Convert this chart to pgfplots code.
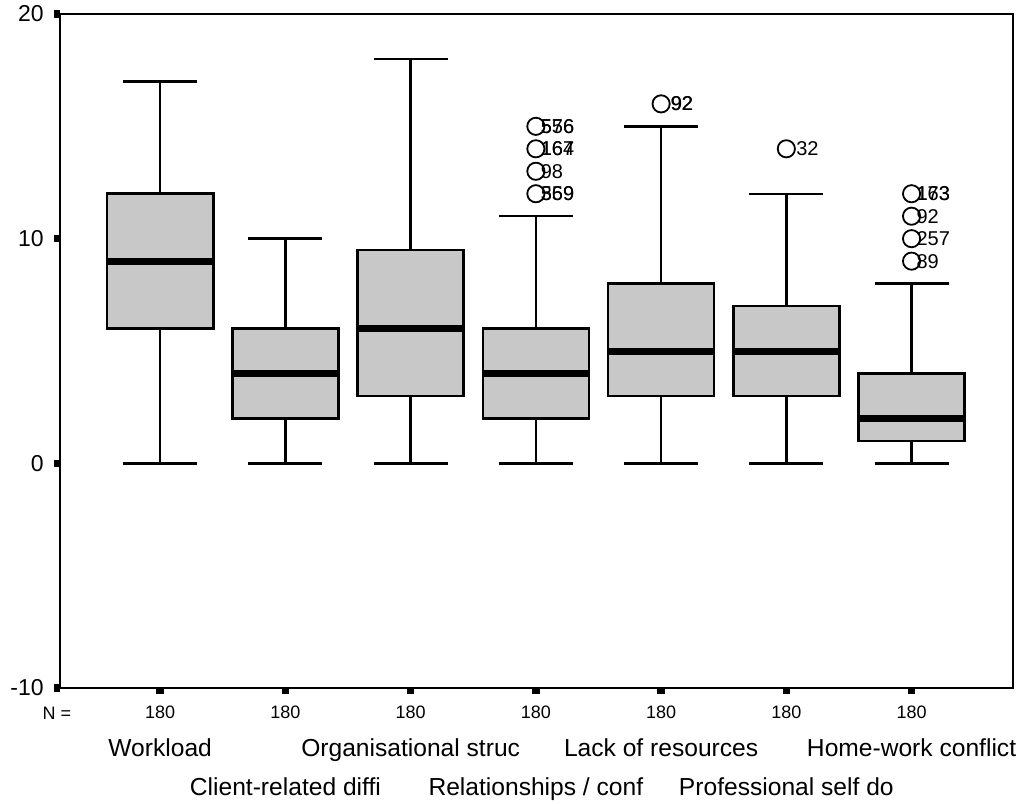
\documentclass[border=0pt]{standalone}
\usepackage{fontspec}
\setmainfont{Liberation Sans}
\usepackage{pgfplots}
\pgfplotsset{compat=1.18}
\usepgfplotslibrary{statistics}
\definecolor{boxgray}{RGB}{200,200,200}
\begin{document}
\begin{tikzpicture}
\useasboundingbox (-30pt,-57.5pt) rectangle (480pt,344pt);
\begin{axis}[
  at={(0,0)}, anchor=south west,
  scale only axis, width=476.5pt, height=337pt,
  xmin=0.2, xmax=7.81, ymin=-10, ymax=20,
  ytick={-10,0,10,20}, xtick={1,...,7},
  tick align=outside, tick pos=left,
  major tick length=3pt,
  tick style={line width=3.8pt, black},
  axis line style={line width=1.2pt},
  clip=false,
  boxplot/draw direction=y,
  /pgf/number format/assume math mode=true,
  yticklabel style={font=\fontsize{11.5}{13}\selectfont, inner sep=0pt, xshift=-5pt},
  xticklabel style={font=\fontsize{12.3}{19}\selectfont, align=center, anchor=north, inner sep=0pt, yshift=-6pt},
  xticklabels={
    {{\fontsize{9}{19}\selectfont 180}\\Workload},
    {{\fontsize{9}{19}\selectfont 180}\\[19.5pt]Client-related diffi},
    {{\fontsize{9}{19}\selectfont 180}\\Organisational struc},
    {{\fontsize{9}{19}\selectfont 180}\\[19.5pt]Relationships / conf},
    {{\fontsize{9}{19}\selectfont 180}\\Lack of resources},
    {{\fontsize{9}{19}\selectfont 180}\\[19.5pt]Professional self do},
    {{\fontsize{9}{19}\selectfont 180}\\Home-work conflict}},
  boxplot/every box/.style={fill=boxgray, draw=black, line width=1.3pt},
  boxplot/every median/.style={draw=black, line width=3.5pt},
  boxplot/every whisker/.style={draw=black, line width=1.2pt},
  every axis plot/.append style={black, mark=o, mark size=4.3pt, mark options={line width=0.9pt, fill=none, draw=black}},
]
\addplot[boxplot prepared={draw position=1, lower whisker=0, lower quartile=6, median=9, upper quartile=12, upper whisker=17, box extend=0.847, whisker extend=0.59}] coordinates {};
\addplot[boxplot prepared={draw position=2, lower whisker=0, lower quartile=2, median=4, upper quartile=6, upper whisker=10, box extend=0.847, whisker extend=0.59}] coordinates {};
\addplot[boxplot prepared={draw position=3, lower whisker=0, lower quartile=3, median=6, upper quartile=9.5, upper whisker=18, box extend=0.847, whisker extend=0.59}] coordinates {};
\addplot[boxplot prepared={draw position=4, lower whisker=0, lower quartile=2, median=4, upper quartile=6, upper whisker=11, box extend=0.847, whisker extend=0.59}] coordinates {(0,12) (0,13) (0,14) (0,15)};
\addplot[boxplot prepared={draw position=5, lower whisker=0, lower quartile=3, median=5, upper quartile=8, upper whisker=15, box extend=0.847, whisker extend=0.59}] coordinates {(0,16)};
\addplot[boxplot prepared={draw position=6, lower whisker=0, lower quartile=3, median=5, upper quartile=7, upper whisker=12, box extend=0.847, whisker extend=0.59}] coordinates {(0,14)};
\addplot[boxplot prepared={draw position=7, lower whisker=0, lower quartile=1, median=2, upper quartile=4, upper whisker=8, box extend=0.847, whisker extend=0.59}] coordinates {(0,9) (0,10) (0,11) (0,12)};
% outlier labels
\begin{scope}[every node/.style={anchor=west, inner sep=0pt, font=\fontsize{10}{11}\selectfont}]
\node[xshift=2.3pt] at (axis cs:4,15) {556};
\node[xshift=2.3pt] at (axis cs:4,15) {576};
\node[xshift=2.3pt] at (axis cs:4,14) {164};
\node[xshift=2.3pt] at (axis cs:4,14) {167};
\node[xshift=2.3pt] at (axis cs:4,13) {98};
\node[xshift=2.3pt] at (axis cs:4,12) {369};
\node[xshift=2.3pt] at (axis cs:4,12) {559};
\node[xshift=4.5pt] at (axis cs:5,16) {92};
\node[xshift=4.8pt] at (axis cs:5,16) {92};
\node[xshift=4.8pt] at (axis cs:6,14) {32};
\node[xshift=2.3pt] at (axis cs:7,12) {163};
\node[xshift=2.3pt] at (axis cs:7,12) {173};
\node[xshift=2.3pt] at (axis cs:7,11) {92};
\node[xshift=2.3pt] at (axis cs:7,10) {257};
\node[xshift=2.3pt] at (axis cs:7,9) {89};
\end{scope}
\node[anchor=base, inner sep=0pt, font=\fontsize{9}{10}\selectfont] at ([xshift=-1.5pt, yshift=-15.5pt]rel axis cs:0,0) {N =};
\end{axis}
\end{tikzpicture}
\end{document}
